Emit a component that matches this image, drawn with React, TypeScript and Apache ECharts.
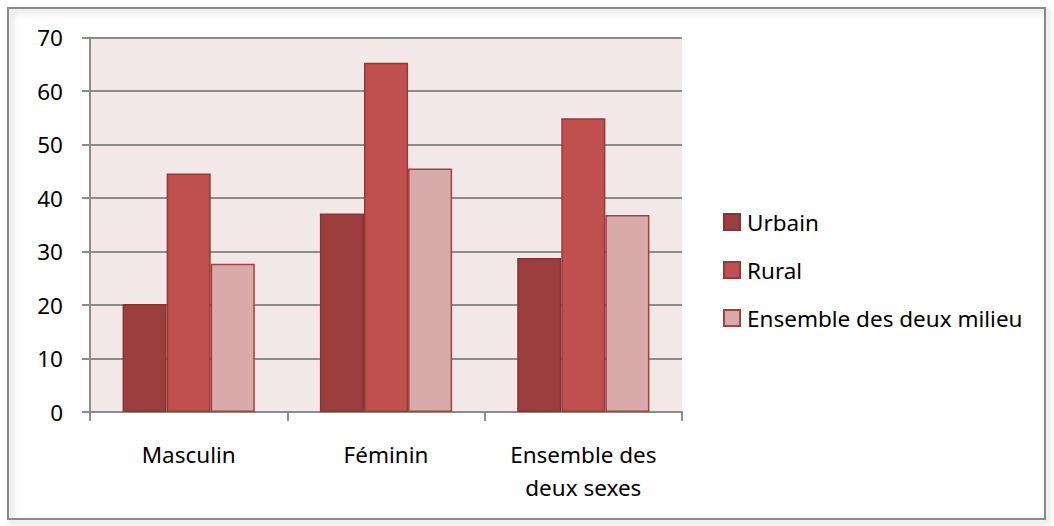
import React, { useEffect, useRef } from "react";
import * as echarts from "echarts";

const categories = ["Masculin", "Féminin", "Ensemble des\ndeux sexes"];
const seriesNames = ["Urbain", "Rural", "Ensemble des deux milieu"];
const urbain = [20.2, 37.1, 28.8];
const rural = [44.6, 65.3, 54.9];
const ensemble = [27.7, 45.5, 36.8];
const yTicks = { min: 0, max: 70, interval: 10 };

const FONT = "'Noto Sans', 'Open Sans', sans-serif";

export default function App() {
  const ref = useRef<HTMLDivElement>(null);
  useEffect(() => {
    if (!ref.current) return;
    const chart = echarts.init(ref.current, undefined, { renderer: "svg" });
    const fills = ["#9c3e3d", "#c0504d", "#d9aaaa"];
    const borders = ["#873434", "#943a38", "#a8403e"];
    const datas = [urbain, rural, ensemble];
    chart.setOption({
      animation: false,
      backgroundColor: "#ffffff",
      graphic: [
        {
          type: "rect",
          z: -10,
          shape: { x: 8, y: 8, width: 1037, height: 511 },
          style: {
            fill: "none",
            stroke: "#8a8a8a",
            lineWidth: 2,
            shadowBlur: 6,
            shadowOffsetX: 3,
            shadowOffsetY: 3,
            shadowColor: "rgba(0,0,0,0.25)",
          },
        },
      ],
      grid: {
        left: 90,
        top: 37.5,
        right: 372,
        bottom: 114,
        show: true,
        backgroundColor: "#f2e8e7",
        borderWidth: 0,
      },
      legend: {
        orient: "vertical",
        left: 723,
        top: 210.5,
        padding: 0,
        itemWidth: 16,
        itemHeight: 16,
        itemGap: 25,
        icon: "rect",
        textStyle: {
          fontFamily: FONT,
          fontSize: 22.5,
          color: "#000",
          lineHeight: 16,
          padding: [0, 0, 0, 2],
        },
        data: seriesNames,
      },
      xAxis: {
        type: "category",
        data: categories,
        axisLine: { show: true, lineStyle: { color: "#8c8c8c", width: 2 } },
        axisTick: { show: true, length: 9, lineStyle: { color: "#8c8c8c", width: 2 } },
        axisLabel: {
          fontFamily: FONT,
          fontSize: 22.5,
          color: "#000",
          lineHeight: 33,
          margin: 26,
        },
      },
      yAxis: {
        type: "value",
        min: yTicks.min,
        max: yTicks.max,
        interval: yTicks.interval,
        axisLine: { show: true, lineStyle: { color: "#8c8c8c", width: 2 } },
        axisTick: { show: true, length: 8, lineStyle: { color: "#8c8c8c", width: 2 } },
        axisLabel: { fontFamily: FONT, fontSize: 22.5, color: "#000", margin: 27 },
        splitLine: { show: true, lineStyle: { color: "#8c8c8c", width: 2 } },
      },
      series: seriesNames.map((name, i) => ({
        name,
        type: "bar",
        data: datas[i],
        barGap: "0%",
        barCategoryGap: "33%",
        itemStyle: { color: fills[i], borderColor: borders[i], borderWidth: 1.5 },
      })),
    });
    return () => chart.dispose();
  }, []);
  return (
    <div
      ref={ref}
      style={{ position: "fixed", left: 0, top: 0, width: 1054, height: 526 }}
    />
  );
}
